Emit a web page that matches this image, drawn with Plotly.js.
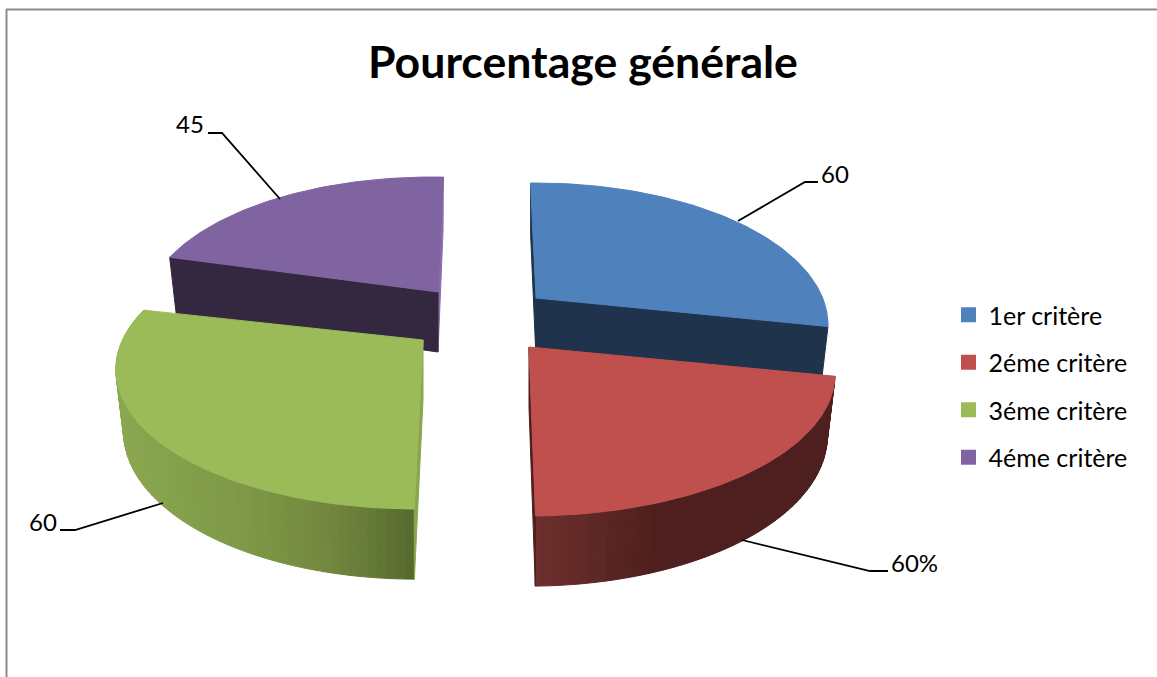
<!DOCTYPE html>
<html><head><meta charset="utf-8">
<script src="https://cdn.plot.ly/plotly-3.0.1.min.js"></script>
<style>html,body{margin:0;padding:0;background:#fff}#c{width:1157px;height:677px}</style>
</head><body><div id="c"></div>
<script>
// Data. Slice sizes: the geometry fits 60/45/60/45; printed labels are as shown.
const categories = ['1er critère', '2éme critère', '3éme critère', '4éme critère'];
const values = [60, 45, 60, 45];
const printedLabels = ['60', '60%', '60', '45'];

// Colours
const topColors = ['#4f81bd', '#c0504d', '#9bbb59', '#8064a2'];
const faceColors = ['#1f334d', '#4d1f1e', '#8aa650', '#33283f'];
const sliverColors = ['#1f334d', '#4d1f1e', '#8aa650', '#8a6db0'];

// Projection of each exploded slice on the page (apex, radii, small angular nudge and skew)
const apexX = [536, 529, 423, 438];
const apexY = [298, 347, 340, 292];
const radiusX = [292, 306, 306, 296];
const nudge = [-1.3, -1.0, 0.3, 2.6];
const skew = [0, 0, -0.04, 0.05];
const radiusY = 142, centerDrop = 27;
const ecc = centerDrop / radiusY;
const depth = 60, depthGrow = 0.06, bottomScale = 0.975;

function rad(d) { return d * Math.PI / 180; }
function topPt(i, th) {
  const c = Math.cos(rad(th)), s = Math.sin(rad(th));
  const den = 1 + ecc * c;
  const cp = (c + ecc) / den, sp = s * Math.sqrt(1 - ecc * ecc) / den;
  const dy = centerDrop - radiusY * cp;
  return [radiusX[i] * sp, dy];
}
function T(i, th) { const p = topPt(i, th); return [apexX[i] + p[0] + skew[i] * p[1], apexY[i] + p[1]]; }
function B(i, th) {
  const p = topPt(i, th);
  return [apexX[i] + p[0] * bottomScale + skew[i] * p[1], apexY[i] + p[1] + depth + depthGrow * p[1]];
}
const AT = i => [apexX[i], apexY[i]];
const AB = i => [apexX[i], apexY[i] + depth];

function poly(pts, color, name) {
  return { type: 'scatter', mode: 'lines', x: pts.map(p => p[0]), y: pts.map(p => p[1]),
    fill: 'toself', fillcolor: color, line: { color: color, width: 1, shape: 'linear' },
    showlegend: false, hoverinfo: 'skip', name: name || '' };
}
function hexMix(stops, x) {
  let a = stops[0], b = stops[stops.length - 1];
  if (x <= a[0]) return a[1];
  if (x >= b[0]) return b[1];
  for (let k = 0; k < stops.length - 1; k++) {
    if (x >= stops[k][0] && x <= stops[k + 1][0]) { a = stops[k]; b = stops[k + 1]; break; }
  }
  const t = (x - a[0]) / (b[0] - a[0]);
  const ch = (h, o) => parseInt(h.substr(o, 2), 16);
  const m = o => Math.round(ch(a[1], o) + (ch(b[1], o) - ch(a[1], o)) * t);
  return 'rgb(' + m(1) + ',' + m(3) + ',' + m(5) + ')';
}
const shadeStops = {
  1: [[535, '#6e2f2d'], [600, '#5c2725'], [660, '#4e1f1e'], [830, '#4d1f1e']],
  2: [[118, '#8aa74f'], [230, '#7f9a48'], [320, '#74893f'], [370, '#657a36'], [415, '#56692d']]
};

const total = values.reduce((a, b) => a + b, 0);
const starts = []; let acc = 0;
values.forEach(v => { starts.push(acc); acc += v / total * 360; });
const sweep = values.map(v => v / total * 360);

const traces = [];
function addSlice(i) {
  const a = starts[i] + nudge[i], e = a + sweep[i];
  // outer wall (front slices only)
  if (shadeStops[i]) {
    const step = 1.5;
    for (let th = a; th < e; th += step) {
      const t2 = Math.min(th + step, e);
      const col = hexMix(shadeStops[i], T(i, th + step / 2)[0]);
      traces.push(poly([T(i, th), T(i, t2), B(i, t2), B(i, th), T(i, th)], col));
    }
  }
  // radial faces
  if (i === 0) {
    traces.push(poly([AT(0), T(0, a), B(0, a), AB(0), AT(0)], sliverColors[0]));
    traces.push(poly([AT(0), T(0, e), B(0, e), AB(0), AT(0)], faceColors[0]));
  } else if (i === 3) {
    traces.push(poly([AT(3), T(3, e), B(3, e), AB(3), AT(3)], sliverColors[3]));
    traces.push(poly([AT(3), T(3, a), B(3, a), AB(3), AT(3)], faceColors[3]));
  } else if (i === 1) {
    traces.push(poly([AT(1), T(1, e), B(1, e), AB(1), AT(1)], faceColors[1]));
  } else {
    traces.push(poly([AT(2), T(2, a), B(2, a), AB(2), AT(2)], faceColors[2]));
  }
  // top
  const pts = [AT(i)];
  for (let th = a; th <= e + 1e-6; th += 1) pts.push(T(i, Math.min(th, e)));
  pts.push(T(i, e)); pts.push(AT(i));
  const tr = poly(pts, topColors[i], categories[i]);
  tr.text = categories[i] + ': ' + values[i];
  traces.push(tr);
}
[0, 3, 1, 2].forEach(addSlice);

// Leader lines
const leaderX = [[738, 805, 818], [742, 870, 888], [163, 75, 60], [280, 222, 208]];
const leaderY = [[221, 182, 182], [540, 571, 571], [503, 530, 530], [199, 133, 133]];
leaderX.forEach((lx, i) => traces.push({ type: 'scatter', mode: 'lines', x: lx, y: leaderY[i],
  line: { color: '#000', width: 1.8 }, showlegend: false, hoverinfo: 'skip' }));

// Legend entries
categories.forEach((c, i) => traces.push({ type: 'scatter', mode: 'markers', name: c,
  x: [-100], y: [-100], legendgroup: 'g' + i, showlegend: true, hoverinfo: 'skip',
  marker: { symbol: 'square', size: 15, color: topColors[i] } }));

const labelX = [819, 889, 27, 174];
const labelY = [173, 562, 521, 123];
const annotations = printedLabels.map((t, i) => ({ text: t, x: labelX[i], y: labelY[i],
  xref: 'x', yref: 'y', xanchor: 'left', yanchor: 'middle', showarrow: false,
  font: { family: 'Lato, Carlito, sans-serif', size: 24, color: '#000' } }));

const layout = {
  width: 1157, height: 677, margin: { l: 0, r: 0, t: 0, b: 0 },
  paper_bgcolor: '#fff', plot_bgcolor: '#fff', hovermode: false,
  xaxis: { range: [0, 1157], visible: false, fixedrange: true },
  yaxis: { range: [677, 0], visible: false, fixedrange: true },
  title: { text: '<b>Pourcentage générale</b>', x: 583 / 1157, xanchor: 'center',
    y: 1 - 62 / 677, yanchor: 'middle', font: { family: 'Lato, Carlito, sans-serif', size: 44.6, color: '#000' } },
  legend: { x: 948.5 / 1157, xanchor: 'left', y: 1 - 292 / 677, yanchor: 'top', bgcolor: 'rgba(0,0,0,0)',
    tracegroupgap: 12, itemclick: false, itemdoubleclick: false, borderwidth: 0,
    font: { family: 'Lato, Carlito, sans-serif', size: 25, color: '#000' } },
  annotations: annotations,
  shapes: [
    { type: 'line', xref: 'paper', yref: 'paper', x0: 6 / 1157, x1: 1, y0: 1 - 9.5 / 677, y1: 1 - 9.5 / 677, line: { color: '#8c8c8c', width: 2 } },
    { type: 'line', xref: 'paper', yref: 'paper', x0: 6.5 / 1157, x1: 6.5 / 1157, y0: 1 - 9 / 677, y1: 0, line: { color: '#8c8c8c', width: 2 } }
  ]
};
Plotly.newPlot('c', traces, layout, { displayModeBar: false, staticPlot: false });
</script></body></html>
